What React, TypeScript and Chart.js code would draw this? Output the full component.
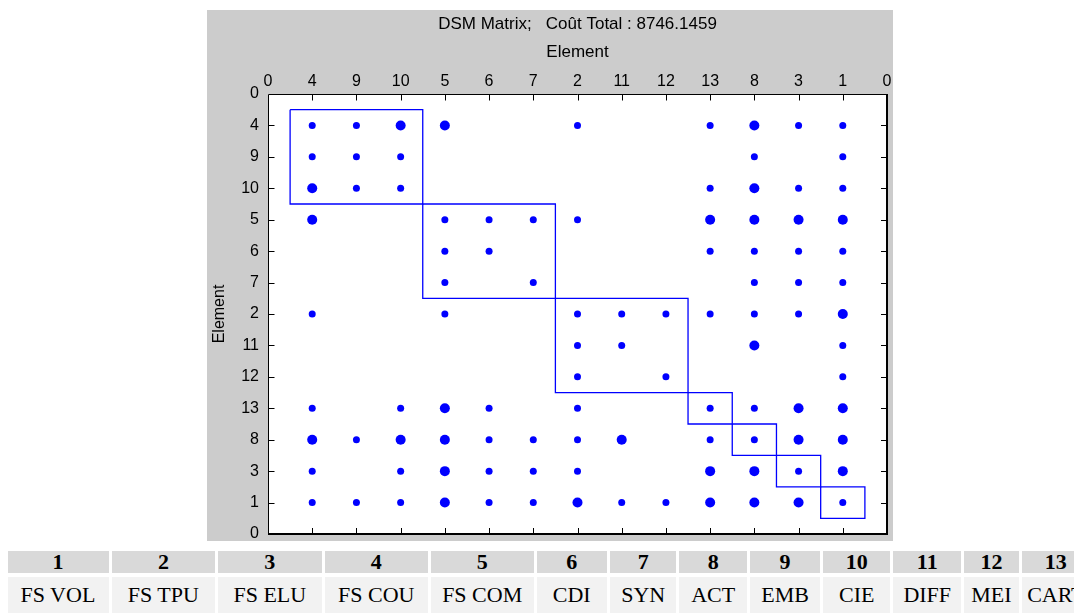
import React, { useEffect, useRef } from 'react';
import { Chart, registerables } from 'chart.js';

Chart.register(...registerables);

// ---------- data ----------
const chartTitle = 'DSM Matrix;   Coût Total : 8746.1459';
const axisTitle = 'Element';
// element order along both axes (position 1..13)
const elementOrder = ['4', '9', '10', '5', '6', '7', '2', '11', '12', '13', '8', '3', '1'];
// for each row (position 1..13, top to bottom): column positions with a small dot
const smallDots: number[][] = [
  [1, 2, 7, 10, 12, 13],
  [1, 2, 3, 11, 13],
  [2, 3, 10, 12, 13],
  [4, 5, 6, 7],
  [4, 5, 10, 11, 12, 13],
  [4, 6, 11, 12, 13],
  [1, 4, 7, 8, 9, 10, 11, 12],
  [7, 8, 13],
  [7, 9, 13],
  [1, 3, 5, 7, 10, 11],
  [2, 5, 6, 7, 10, 11],
  [1, 3, 5, 6, 7, 12],
  [1, 2, 3, 5, 6, 8, 9, 13],
];
// for each row: column positions with a large dot
const largeDots: number[][] = [
  [3, 4, 11],
  [],
  [1, 11],
  [1, 10, 11, 12, 13],
  [],
  [],
  [13],
  [11],
  [],
  [4, 12, 13],
  [1, 3, 4, 8, 12, 13],
  [4, 10, 11, 13],
  [4, 7, 10, 11, 12],
];
// clusters (first and last position of each block on the diagonal)
const clusterStart = [1, 4, 7, 10, 11, 12, 13];
const clusterEnd = [3, 6, 9, 10, 11, 12, 13];

// legend table
const tableIds = ['1', '2', '3', '4', '5', '6', '7', '8', '9', '10', '11', '12', '13'];
const tableNames = ['FS VOL', 'FS TPU', 'FS ELU', 'FS COU', 'FS COM', 'CDI', 'SYN', 'ACT', 'EMB', 'CIE', 'DIFF', 'MEI', 'CART'];

// ---------- styles ----------
const colWidths = [101, 102.5, 103, 102.5, 102, 70, 66, 67, 70, 66.5, 67.5, 54, 68];
const SPACING_X = 3.5;
const BLUE = '#0000ff';
const FONT = 'Liberation Sans, Arial, sans-serif';

const tickLabel = (v: number) => {
  if (v <= 0 || v >= elementOrder.length + 1) return '0';
  return elementOrder[v - 1] ?? '';
};

const toPoints = (rows: number[][]) =>
  rows.flatMap((cols, r) => cols.map((c) => ({ x: c, y: r + 1 })));

const framePlugin = {
  id: 'dsmFrame',
  beforeDatasetsDraw(chart: any) {
    const { ctx, chartArea: a } = chart;
    ctx.save();
    ctx.fillStyle = '#ffffff';
    ctx.fillRect(a.left, a.top, a.right - a.left, a.bottom - a.top);
    ctx.restore();
  },
  afterDatasetsDraw(chart: any) {
    const { ctx, chartArea: a, scales } = chart;
    const xs = scales.x;
    const ys = scales.y;
    ctx.save();
    ctx.strokeStyle = '#000000';
    ctx.lineWidth = 1;
    ctx.beginPath();
    const L = Math.round(a.left) + 0.5;
    const T = Math.round(a.top) + 0.5;
    const R = Math.round(a.right);
    const B = Math.round(a.bottom);
    ctx.moveTo(L, B);
    ctx.lineTo(L, T);
    ctx.lineTo(R, T);
    ctx.stroke();
    ctx.lineWidth = 2;
    ctx.beginPath();
    ctx.moveTo(L - 0.5, B);
    ctx.lineTo(R, B);
    ctx.lineTo(R, T - 0.5);
    ctx.stroke();
    ctx.lineWidth = 1;
    ctx.beginPath();
    for (let i = 1; i <= elementOrder.length; i++) {
      const x = Math.round(xs.getPixelForValue(i)) + 0.5;
      ctx.moveTo(x, T);
      ctx.lineTo(x, T + 6);
      ctx.moveTo(x, B);
      ctx.lineTo(x, B - 6);
      const y = Math.round(ys.getPixelForValue(i)) + 0.5;
      ctx.moveTo(L, y);
      ctx.lineTo(L + 6, y);
      ctx.moveTo(R, y);
      ctx.lineTo(R - 6, y);
    }
    ctx.stroke();
    ctx.restore();
  },
};

function DsmChart() {
  const ref = useRef<HTMLCanvasElement | null>(null);

  useEffect(() => {
    if (!ref.current) return;
    const n = elementOrder.length;
    const boxes = clusterStart.map((s0, i) => {
      const s = s0 - 0.5;
      const e = clusterEnd[i] + 0.5;
      return {
        type: 'line' as const,
        label: 'cluster ' + (i + 1),
        data: [
          { x: s, y: s },
          { x: e, y: s },
          { x: e, y: e },
          { x: s, y: e },
          { x: s, y: s },
        ],
        showLine: true,
        borderColor: BLUE,
        borderWidth: 1.3,
        pointRadius: 0,
        fill: false,
        tension: 0,
      };
    });

    const chart = new Chart(ref.current, {
      type: 'scatter',
      data: {
        datasets: [
          ...boxes,
          {
            label: 'small',
            data: toPoints(smallDots),
            pointRadius: 3.5,
            pointBorderWidth: 0,
            backgroundColor: BLUE,
            pointBackgroundColor: BLUE,
          },
          {
            label: 'large',
            data: toPoints(largeDots),
            pointRadius: 5,
            pointBorderWidth: 0,
            backgroundColor: BLUE,
            pointBackgroundColor: BLUE,
          },
        ] as any,
      },
      options: {
        animation: false,
        responsive: false,
        devicePixelRatio: 1,
        layout: { padding: { top: 0, left: 0, right: 6, bottom: 7 } },
        plugins: {
          legend: { display: false },
          tooltip: { enabled: false },
          title: { display: false },
        },
        scales: {
          x: {
            type: 'linear',
            position: 'top',
            min: 0,
            max: n + 1,
            grid: { display: false, drawTicks: false },
            border: { display: false },
            ticks: {
              stepSize: 1,
              autoSkip: false,
              maxRotation: 0,
              padding: 3,
              color: '#000',
              font: { family: FONT, size: 16, lineHeight: 1.2 },
              callback: (v: any) => tickLabel(Number(v)),
            },
            title: {
              display: true,
              text: [chartTitle, axisTitle],
              color: '#000',
              font: { family: FONT, size: 17, lineHeight: 28 / 17 },
              padding: { top: 0, bottom: 0 },
            },
            afterFit: (scale: any) => {
              scale.height = 84;
              scale.paddingLeft = 0;
              scale.paddingRight = 0;
            },
          },
          y: {
            type: 'linear',
            position: 'left',
            reverse: true,
            min: 0,
            max: n + 1,
            grid: { display: false, drawTicks: false },
            border: { display: false },
            ticks: {
              stepSize: 1,
              autoSkip: false,
              padding: 9,
              color: '#000',
              font: { family: FONT, size: 16, lineHeight: 1.2 },
              callback: (v: any) => tickLabel(Number(v)),
            },
            title: {
              display: true,
              text: axisTitle,
              color: '#000',
              font: { family: FONT, size: 16, lineHeight: 1.2 },
              padding: { top: 3, bottom: 0 },
            },
            afterFit: (scale: any) => {
              scale.width = 61;
              scale.paddingTop = 0;
              scale.paddingBottom = 0;
            },
          },
        },
      } as any,
      plugins: [framePlugin],
    });
    return () => chart.destroy();
  }, []);

  return <canvas ref={ref} width={686} height={531} style={{ display: 'block' }} />;
}

export default function App() {
  useEffect(() => {
    document.documentElement.style.overflow = 'hidden';
    document.body.style.overflow = 'hidden';
  }, []);

  const tableWidth = colWidths.reduce((s, w) => s + w, 0) + SPACING_X * (colWidths.length + 1);

  const cellBase: React.CSSProperties = {
    fontFamily: 'Liberation Serif, Times New Roman, serif',
    fontSize: 22,
    lineHeight: '21px',
    textAlign: 'center',
    whiteSpace: 'nowrap',
    overflow: 'hidden',
    color: '#000',
  };

  return (
    <div style={{ position: 'relative', width: 1120, height: 607, overflow: 'hidden' }}>
      <div
        style={{
          position: 'absolute',
          left: 199,
          top: 2,
          width: 686,
          height: 531,
          background: '#cccccc',
        }}
      >
        <DsmChart />
      </div>
      <table
        style={{
          position: 'absolute',
          left: 7.6 - 8 - SPACING_X,
          top: 539.4,
          width: tableWidth,
          minWidth: tableWidth,
          borderCollapse: 'separate',
          borderSpacing: `${SPACING_X}px 4.5px`,
          tableLayout: 'fixed',
        }}
      >
        <colgroup>
          {colWidths.map((w, i) => (
            <col key={i} style={{ width: w }} />
          ))}
        </colgroup>
        <tbody>
          <tr>
            {tableIds.map((t, i) => (
              <td
                key={i}
                style={{
                  ...cellBase,
                  fontWeight: 'bold',
                  background: '#d9d9d9',
                  padding: '0px 0px 0.3px 0px',
                }}
              >
                {t}
              </td>
            ))}
          </tr>
          <tr>
            {tableNames.map((t, i) => (
              <td
                key={i}
                style={{
                  ...cellBase,
                  background: '#f2f2f2',
                  padding: '7.5px 0px',
                }}
              >
                {t}
              </td>
            ))}
          </tr>
        </tbody>
      </table>
    </div>
  );
}
